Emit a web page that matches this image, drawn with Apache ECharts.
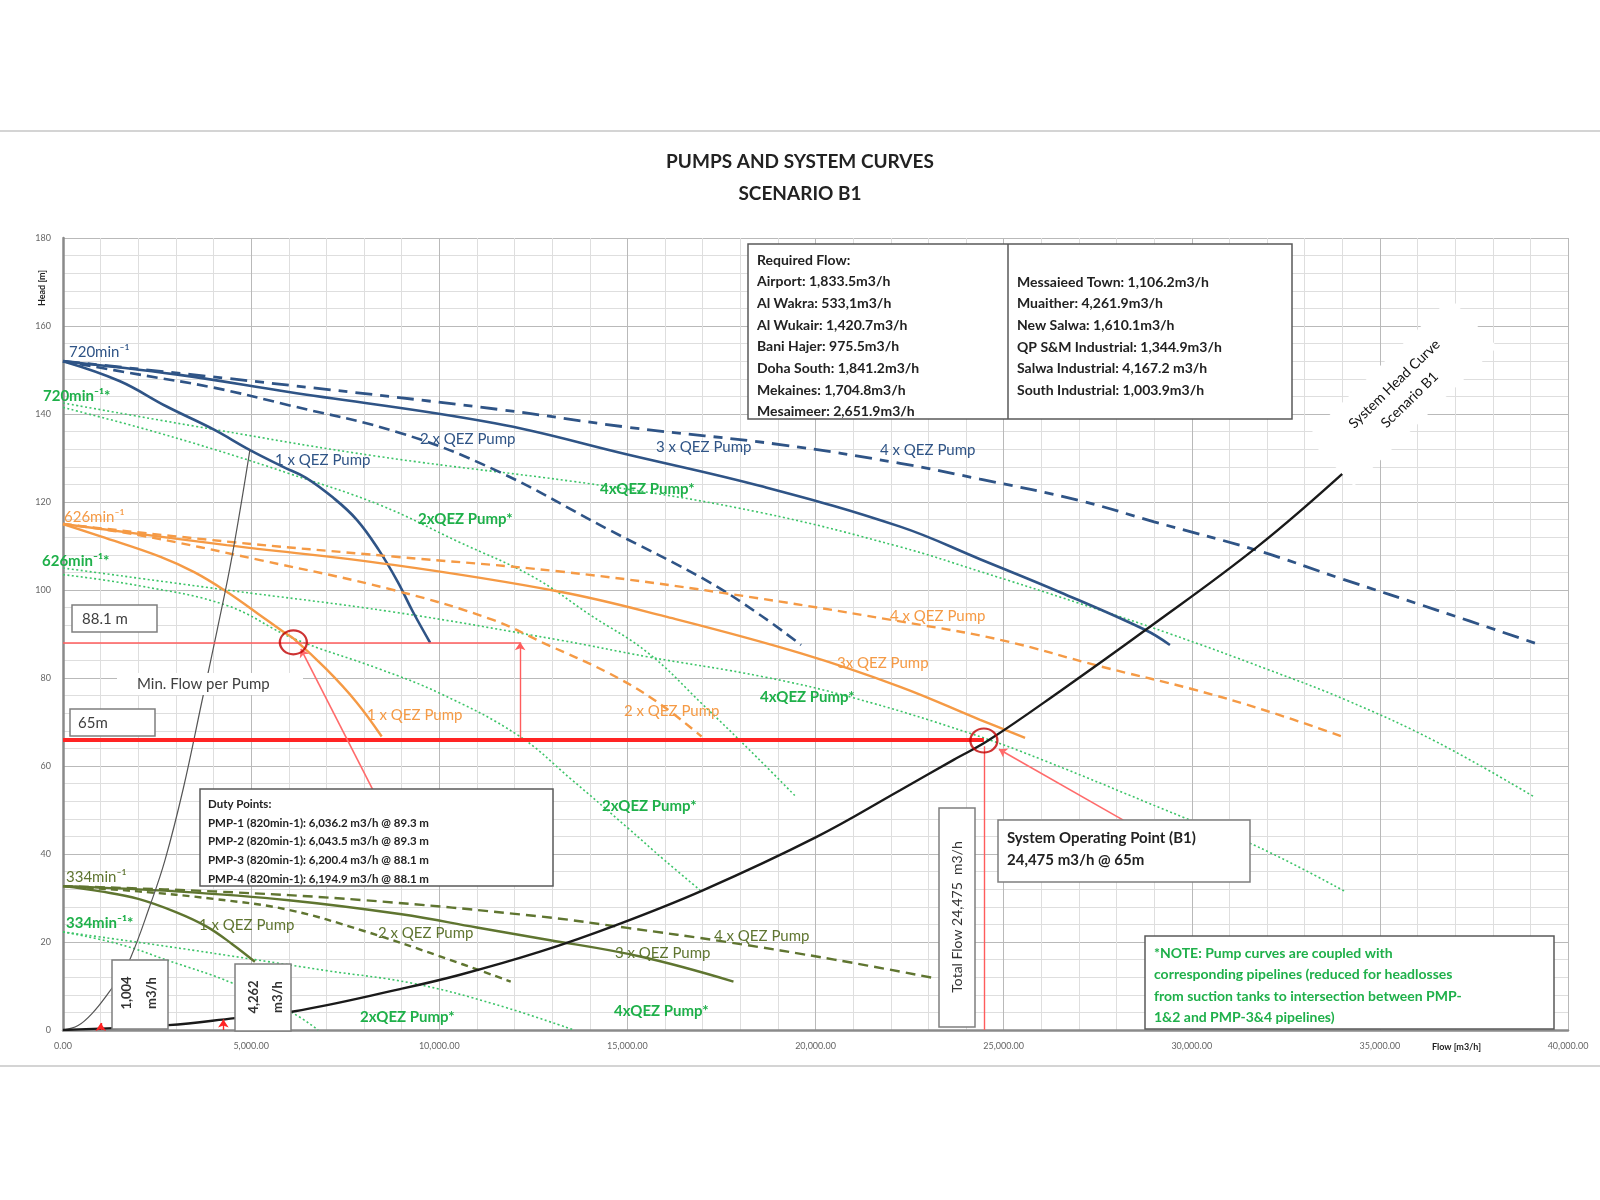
<!DOCTYPE html>
<html><head><meta charset="utf-8">
<script src="https://cdn.jsdelivr.net/npm/echarts@6/dist/echarts.min.js"></script>
<style>html,body{margin:0;padding:0;background:#fff}#c{width:1600px;height:1200px}</style>
</head><body><div id="c"></div>
<script>
// ---------- DATA (flow m3/h, head m) ----------
const pump720_1x = [[0,152],[1500,147.5],[2756,141.7],[4000,136.5],[4971,131.8],[5850,128],[6460,125.5],[7177,121],[7815,115.9],[8400,109],[8900,101.8],[9303,95],[9760,88]];
const pump720_2x = [[0,152],[2000,149],[4000,146],[6000,142],[8960,135.7],[11478,127.3],[14530,113.6],[17073,102.3],[18500,94.5],[19616,87.5]];
const pump720_3x = [[0,152],[3000,149],[6000,145],[11478,137.9],[15000,130.8],[18598,123.5],[22250,114.4],[24375,107],[26500,99.5],[28770,90.9],[29420,87.5]];
const pump720_4x = [[0,152],[5000,147.5],[11615,141],[15000,137],[19106,133],[22250,128.8],[24375,125.2],[26990,120.4],[29000,115.5],[31740,109],[34000,102.5],[36490,95.5],[39270,87.5]];

const pump626_1x = [[0,115],[1000,112.2],[2578,107.6],[3500,104],[4350,99.6],[5200,94.5],[5855,90.5],[6122,89],[7000,82],[7800,74.5],[8470,66.7]];
const pump626_2x = [[0,115],[2000,112.5],[5236,106.8],[8780,100],[11430,93.2],[12760,88],[14530,81],[15800,74.5],[16972,66.7]];
const pump626_3x = [[0,115],[4350,110.2],[8780,105.7],[13210,99.6],[16000,94],[19616,85.6],[22250,78],[24375,70.5],[25570,66.4]];
const pump626_4x = [[0,115],[4350,111],[8780,107.6],[13210,104.2],[17570,99.3],[22840,92],[25000,88.5],[27590,82.6],[30000,77.5],[32000,72.5],[34100,66.4]];

const pump334_1x = [[0,32.7],[1000,31.5],[2000,29.8],[3000,26.8],[3820,23.5],[4500,19.5],[5100,15.5]];
const pump334_2x = [[0,32.7],[2000,31.5],[4000,29.8],[6000,27.3],[8000,22.5],[10000,16.8],[11900,11]];
const pump334_3x = [[0,32.7],[3000,31.5],[6000,29.5],[9000,26.3],[11000,23.3],[12680,20.8],[15340,16.7],[17820,11]];
const pump334_4x = [[0,32.7],[4000,31.5],[8000,29.5],[12680,25.8],[15000,23.2],[17640,20],[20500,16],[23220,11.7]];

const coupled720_2x = [[0,141.5],[2000,137],[4000,132],[6000,126.5],[8426,119.3],[10500,111],[12492,103],[14000,94.4],[15550,85.7],[17000,74],[18440,62],[19483,53]];
const coupled720_4x = [[0,142.5],[4000,136.5],[8426,130.3],[14530,123.5],[18598,117.5],[22250,109.8],[24375,104.2],[27000,97],[29370,90.2],[32000,82],[34100,75],[36500,65.5],[39100,53]];
const coupled626_2x = [[0,103.5],[2000,101],[4350,96.5],[6122,89],[8426,82],[10020,76.5],[12090,67],[13505,57],[15000,46],[16000,38.5],[16930,31.8]];
const coupled626_4x = [[0,105],[4350,100],[8780,95],[13210,88.6],[15550,84.8],[18598,80.3],[21000,75.5],[24083,67.5],[26000,61.5],[29960,47.7],[31740,41.7],[34050,31.6]];
const coupled334_2x = [[0,22.3],[1500,19.5],[2755,15.9],[4520,10.6],[6120,3.8],[6780,0]];
const coupled334_4x = [[0,22.3],[2844,18.9],[5100,16],[7000,13.5],[9300,10.6],[11500,5.8],[13580,0]];

const systemCurveB1 = [[0,0],[2800,1.1],[4572,2.7],[6122,4.2],[8957,9.3],[10530,12.5],[12680,17.8],[14720,23.9],[17020,31.8],[20030,43.9],[22250,54.5],[23670,61.4],[24610,65.9],[26500,77],[28770,90.9],[31740,109.8],[34170,127.7]];
const minFlowCurve = [[0,0],[400,1],[800,4],[1200,8.3],[1500,12],[1800,16.5],[2300,28],[2711,38.6],[3200,55],[3700,75],[4100,91],[4500,108],[4971,132]];

const dutyPoint = [6122, 88.1];
const operatingPoint = [24475, 65.8];
const dutyHead = 88.1;
const dutyLineEndFlow = 12150;
const systemHead = 66;
const minFlowPerPump = [1004, 4262];
const dutyBoxAnchor = [8240, 54.5];
const opBoxAnchor = [28180, 47.7];

const xMax = 40000, xStep = 1000, xLabelStep = 5000;
const yMax = 180, yStep = 4, yLabelStep = 20;

const requiredFlowLeft = ['Required Flow:','Airport: 1,833.5m3/h','Al Wakra: 533,1m3/h','Al Wukair: 1,420.7m3/h','Bani Hajer: 975.5m3/h','Doha South: 1,841.2m3/h','Mekaines: 1,704.8m3/h','Mesaimeer: 2,651.9m3/h'];
const requiredFlowRight = ['Messaieed Town: 1,106.2m3/h','Muaither: 4,261.9m3/h','New Salwa: 1,610.1m3/h','QP S&M Industrial: 1,344.9m3/h','Salwa Industrial: 4,167.2 m3/h','South Industrial: 1,003.9m3/h'];
const dutyPointsText = ['Duty Points:','PMP-1 (820min-1): 6,036.2 m3/h @ 89.3 m','PMP-2 (820min-1): 6,043.5 m3/h @ 89.3 m','PMP-3 (820min-1): 6,200.4 m3/h @ 88.1 m','PMP-4 (820min-1): 6,194.9 m3/h @ 88.1 m'];
const noteText = ['*NOTE: Pump curves are coupled with','corresponding pipelines (reduced for headlosses','from suction tanks to intersection between PMP-','1&2 and PMP-3&4 pipelines)'];

// ---------- STYLE ----------
const FONT = 'Lato, "Open Sans", sans-serif';
const C = {blue:'#2f5486', orange:'#f59a45', olive:'#5f7530', green:'#3cc468', gtext:'#1fb04a', black:'#1a1a1a', red:'#ff2424', dred:'#c00000'};

function curve(data, color, type, width, z) {
  return {type:'line', data, showSymbol:false, smooth:0.4, silent:true, z:z||3,
    lineStyle:{color, width, type}, animation:false};
}
const DOT = [2,2.5], DASH_B = [11,6], DASH_B4 = [17,8,9,8], DASH_O = [9,6], DASH_G = [10,6];
const series = [
  curve(coupled720_2x, C.green, DOT, 1.6, 2),
  curve(coupled720_4x, C.green, DOT, 1.6, 2),
  curve(coupled626_2x, C.green, DOT, 1.6, 2),
  curve(coupled626_4x, C.green, DOT, 1.6, 2),
  curve(coupled334_2x, C.green, DOT, 1.6, 2),
  curve(coupled334_4x, C.green, DOT, 1.6, 2),
  curve(pump720_1x, C.blue, 'solid', 2.6),
  curve(pump720_2x, C.blue, DASH_B, 2.6),
  curve(pump720_3x, C.blue, 'solid', 2.6),
  curve(pump720_4x, C.blue, DASH_B4, 2.8),
  curve(pump626_1x, C.orange, 'solid', 2.4),
  curve(pump626_2x, C.orange, DASH_O, 2.4),
  curve(pump626_3x, C.orange, 'solid', 2.4),
  curve(pump626_4x, C.orange, DASH_O, 2.4),
  curve(pump334_1x, C.olive, 'solid', 2.4),
  curve(pump334_2x, C.olive, [7,5], 2.4),
  curve(pump334_3x, C.olive, 'solid', 2.4),
  curve(pump334_4x, C.olive, DASH_G, 2.4),
  curve(minFlowCurve, '#555', 'solid', 1.2),
  curve(systemCurveB1, C.black, 'solid', 2.4, 4),
];

function seg(a, b, color, width, arrow) {
  return [{coord:a, symbol:'none'}, {coord:b, symbol: arrow ? 'arrow' : 'none', symbolSize: arrow ? 8 : 0,
    lineStyle:{color, width, type:'solid'}}];
}
series.push({
  type:'line', data:[], silent:true, z:5, animation:false,
  markLine:{silent:true, symbol:['none','none'], label:{show:false}, animation:false,
    data:[
      seg([0,dutyHead],[dutyLineEndFlow,dutyHead],'#ff5c5c',1.6,false),
      seg([dutyLineEndFlow,systemHead],[dutyLineEndFlow,dutyHead],'#ff5c5c',1.4,true),
      seg([0,systemHead],[operatingPoint[0],systemHead],C.red,4,false),
      seg([operatingPoint[0],0],[operatingPoint[0],systemHead-1.5],'#ff5c5c',1.4,false),
      seg(dutyBoxAnchor,[dutyPoint[0]+200,dutyPoint[1]-1.5],'#ff6b6b',1.6,true),
      seg(opBoxAnchor,[operatingPoint[0]+400,operatingPoint[1]-2],'#ff6b6b',1.6,true),
      seg([minFlowPerPump[0],0],[minFlowPerPump[0],1.6],C.red,1.4,true),
      seg([minFlowPerPump[1],0],[minFlowPerPump[1],2.4],C.red,1.4,true),
    ]
  }
});

series.push({type:'scatter', data:[dutyPoint, operatingPoint], symbol:'circle', symbolSize:[27,24], silent:true, z:6,
  itemStyle:{color:'rgba(0,0,0,0)', borderColor:C.dred, borderWidth:2.2}, animation:false});

// ---------- ANNOTATIONS (pixel layout) ----------
const G = [];
function txt(x, y, text, fill, size, weight, extra) {
  G.push(Object.assign({type:'text', z:110, silent:true, x, y,
    style:{text, fill, font:(weight||'normal')+' '+size+'px '+FONT, textAlign:'left', verticalAlign:'middle'}}, extra||{}));
}
function box(x, y, w, h, stroke, lw) {
  G.push({type:'rect', z:100, silent:true, shape:{x, y, width:w, height:h},
    style:{fill:'#fff', stroke: stroke||'none', lineWidth: lw||1.5}});
}
function hline(x1, x2, y, color, w) {
  G.push({type:'line', z:100, silent:true, shape:{x1, y1:y, x2, y2:y}, style:{stroke:color, lineWidth:w}});
}
// frame lines
hline(0, 1600, 131, '#d4d4d4', 2);
hline(0, 1600, 1066, '#d4d4d4', 2);

// axis names
G.push({type:'text', z:110, x:42, y:288, rotation:Math.PI/2, style:{text:'Head [m]', fill:'#222', font:'bold 9px '+FONT, textAlign:'center', verticalAlign:'middle'}});
txt(1432, 1047, 'Flow [m3/h]', '#222', 9, 'bold');

// speed labels
txt(69, 352, '720min⁻¹', C.blue, 15);
txt(43, 396, '720min⁻¹*', C.gtext, 15, 'bold');
txt(64, 517, '626min⁻¹', C.orange, 15);
txt(42, 561, '626min⁻¹*', C.gtext, 15, 'bold');
txt(66, 877, '334min⁻¹', C.olive, 15);
txt(66, 923, '334min⁻¹*', C.gtext, 15, 'bold');

// curve labels
[[275,460,'1 x QEZ Pump'],[420,439,'2 x QEZ Pump'],[656,447,'3 x QEZ Pump'],[880,450,'4 x QEZ Pump']].forEach(a=>txt(a[0],a[1],a[2],C.blue,15));
[[600,489],[760,697],[614,1011]].forEach(a=>txt(a[0],a[1],'4xQEZ Pump*',C.gtext,15,'bold'));
[[418,519],[602,806],[360,1017]].forEach(a=>txt(a[0],a[1],'2xQEZ Pump*',C.gtext,15,'bold'));
[[890,616,'4 x QEZ Pump'],[837,663,'3x QEZ Pump'],[624,711,'2 x QEZ Pump'],[367,715,'1 x QEZ Pump']].forEach(a=>txt(a[0],a[1],a[2],C.orange,15));
[[199,925,'1 x QEZ Pump'],[378,933,'2 x QEZ Pump'],[615,953,'3 x QEZ Pump'],[714,936,'4 x QEZ Pump']].forEach(a=>txt(a[0],a[1],a[2],C.olive,15));

// head boxes
box(72, 605, 85, 27, '#7f7f7f', 1.5); txt(82, 619, '88.1 m', '#404040', 15);
box(70, 709, 85, 27, '#7f7f7f', 1.5); txt(78, 723, '65m', '#404040', 15);
box(117, 673, 186, 22); txt(137, 684, 'Min. Flow per Pump', '#404040', 15);

// required flow box
box(748, 244, 544, 175, '#595959', 1.5);
G.push({type:'line', z:101, silent:true, shape:{x1:1008, y1:244, x2:1008, y2:419}, style:{stroke:'#595959', lineWidth:1.5}});
requiredFlowLeft.forEach((t,i)=>txt(757, 260 + i*21.7, t, '#222', 14, 'bold'));
requiredFlowRight.forEach((t,i)=>txt(1017, 282 + i*21.7, t, '#222', 14, 'bold'));

// duty points box
box(200, 789, 353, 97, '#595959', 1.5);
dutyPointsText.forEach((t,i)=>txt(208, 804 + i*18.8, t, '#222', 11.5, 'bold'));

// total flow box
box(939, 808, 36, 219, '#7f7f7f', 1.5);
G.push({type:'text', z:110, x:957, y:917, rotation:Math.PI/2, style:{text:'Total Flow 24,475  m3/h', fill:'#333', font:'14px '+FONT, textAlign:'center', verticalAlign:'middle'}});

// system operating point box
box(998, 820, 252, 62, '#7f7f7f', 1.5);
txt(1007, 838, 'System Operating Point (B1)', '#222', 15, 'bold');
txt(1007, 860, '24,475 m3/h @ 65m', '#222', 15, 'bold');

// min flow boxes
box(112, 960, 56, 69, '#7f7f7f', 1.5);
box(235, 964, 56, 67, '#7f7f7f', 1.5);
[[127,993,'1,004'],[152,993,'m3/h'],[254,997,'4,262'],[278,997,'m3/h']].forEach(a=>G.push({type:'text', z:110, x:a[0], y:a[1], rotation:Math.PI/2,
  style:{text:a[2], fill:'#333', font:'bold 13px '+FONT, textAlign:'center', verticalAlign:'middle'}}));

// note box
box(1145, 936, 409, 93, '#595959', 1.5);
noteText.forEach((t,i)=>txt(1154, 953 + i*21.5, t, C.gtext, 14, 'bold'));

// system head curve label
G.push({type:'rect', z:99, silent:true, x:1402, y:392, rotation:0.77, shape:{x:-100, y:-34, width:200, height:68}, style:{fill:'#fff'}});
G.push({type:'text', z:110, x:1402, y:392, rotation:0.77, style:{text:'System Head Curve\nScenario B1', fill:'#111', font:'14px '+FONT, textAlign:'center', verticalAlign:'middle', lineHeight:22}});

// ---------- CHART ----------
const chart = echarts.init(document.getElementById('c'), null, {renderer:'canvas'});
const fmtX = v => v % xLabelStep === 0 ? v.toLocaleString('en-US',{minimumFractionDigits:2, maximumFractionDigits:2}) : '';
const fmtY = v => v % yLabelStep === 0 ? String(v) : '';
const major = '#b9b9b9', minor = '#dedede';
chart.setOption({
  animation:false,
  backgroundColor:'#fff',
  title:{text:'PUMPS AND SYSTEM CURVES\nSCENARIO B1', left:'center', top:141,
    textStyle:{fontFamily:FONT, fontWeight:'bold', fontSize:19, color:'#222', lineHeight:32}},
  grid:{left:63, right:32, top:238, bottom:170},
  xAxis:{type:'value', min:0, max:xMax, interval:xStep,
    axisLine:{show:true, onZero:false, lineStyle:{color:'#8a8a8a', width:2.5}},
    axisTick:{show:false},
    axisLabel:{formatter:fmtX, fontSize:9, color:'#666', fontFamily:FONT, margin:12, showMaxLabel:true, showMinLabel:true},
    splitLine:{show:true, lineStyle:{color:[major,minor,minor,minor,minor], width:1}}},
  yAxis:{type:'value', min:0, max:yMax, interval:yStep,
    axisLine:{show:true, onZero:false, lineStyle:{color:'#8a8a8a', width:2.5}},
    axisTick:{show:false},
    axisLabel:{formatter:fmtY, fontSize:9, color:'#666', fontFamily:FONT, margin:12},
    splitLine:{show:true, lineStyle:{color:[major,minor,minor,minor,minor], width:1}}},
  series,
  graphic:{elements:G}
});
</script></body></html>
